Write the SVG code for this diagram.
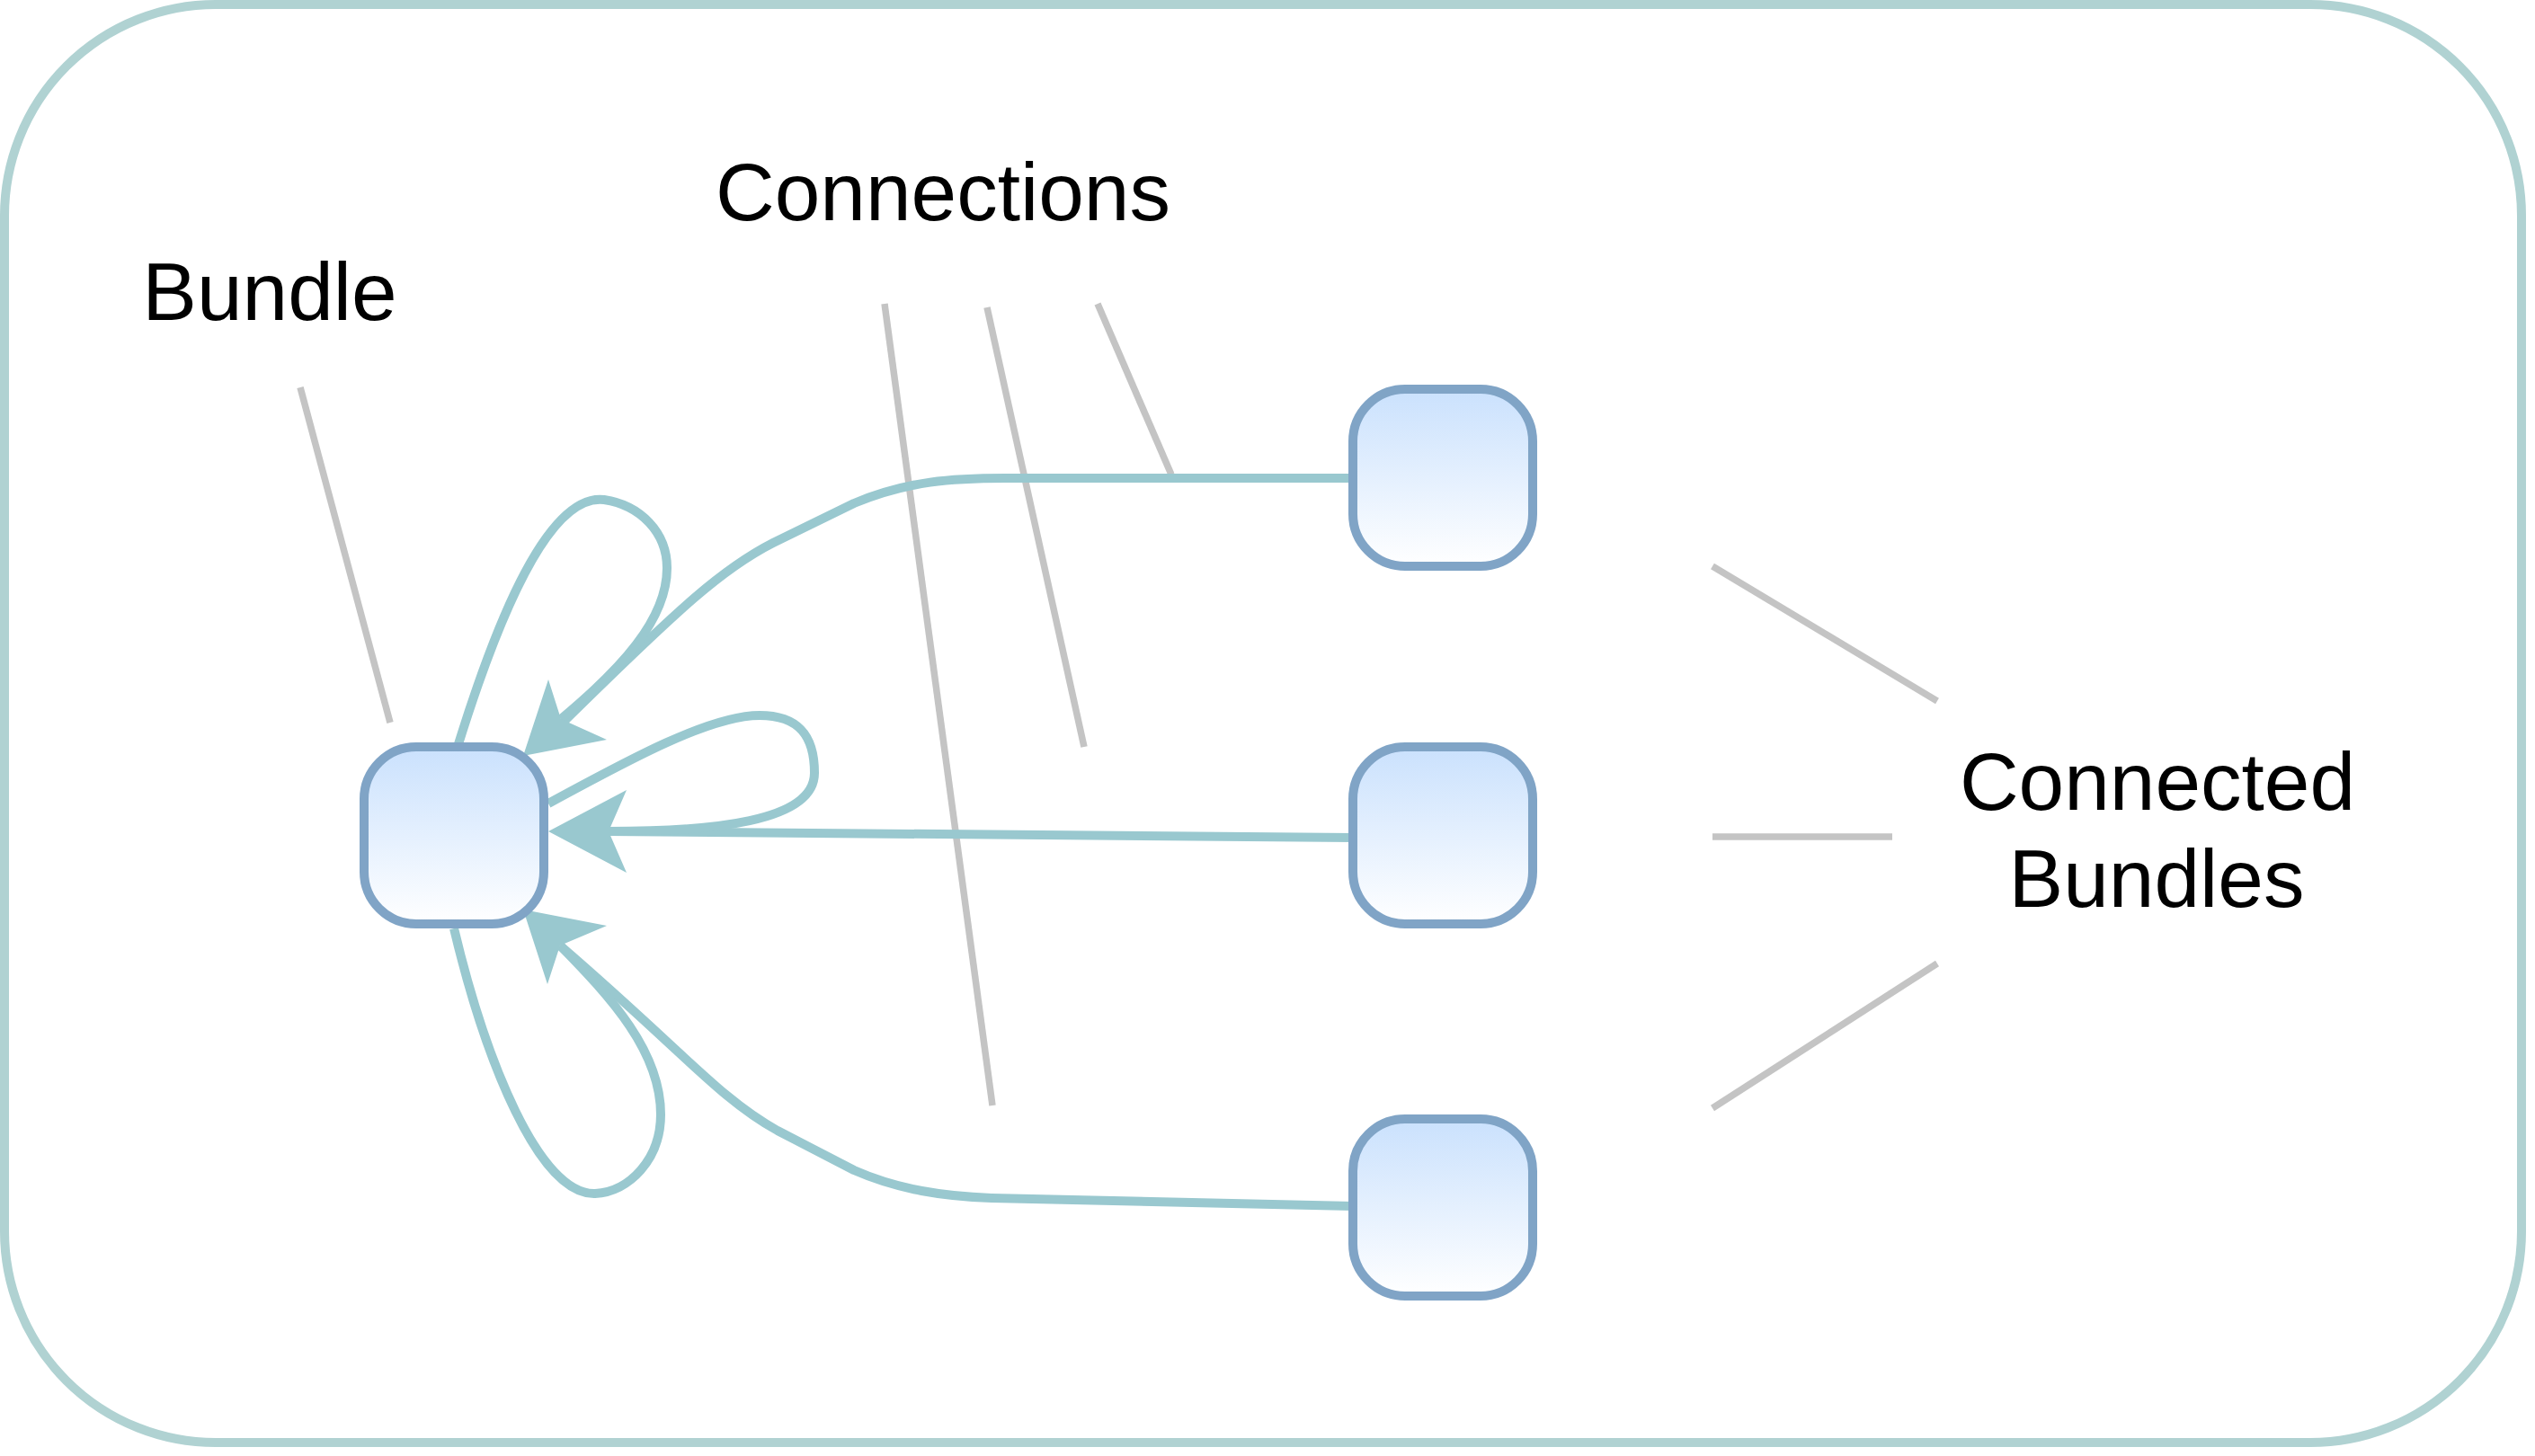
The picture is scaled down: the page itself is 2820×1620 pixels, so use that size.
<svg xmlns="http://www.w3.org/2000/svg" width="2820" height="1620" viewBox="0 0 2820 1620">
  <defs>
    <linearGradient id="nodeFill" x1="0" y1="0" x2="0" y2="1">
      <stop offset="0" stop-color="#cae1fd"/>
      <stop offset="1" stop-color="#ffffff"/>
    </linearGradient>
    <style>
      .frame { fill: #ffffff; stroke: #b0d2d2; stroke-width: 10; }
      .node { fill: url(#nodeFill); stroke: #80a4c6; stroke-width: 10; }
      .conn { fill: none; stroke: #99c8cf; stroke-width: 10; stroke-linejoin: round; }
      .arrow { fill: #99c8cf; stroke: none; }
      .pointer { fill: none; stroke: #c4c4c4; stroke-width: 7.5; }
      .label { font-family: "Liberation Sans", Arial, sans-serif; font-size: 91px; fill: #000000; text-anchor: middle; }
    </style>
  </defs>

  <rect id="frame" class="frame" x="5" y="5" width="2800" height="1600" rx="235" ry="235"/>

  <g id="pointers">
    <line class="pointer" x1="334" y1="431" x2="434" y2="804"/>
    <line class="pointer" x1="984" y1="338" x2="1104" y2="1230"/>
    <line class="pointer" x1="1098" y1="342" x2="1206" y2="831"/>
    <line class="pointer" x1="1221" y1="338" x2="1303" y2="528"/>
    <line class="pointer" x1="1905" y1="630" x2="2155" y2="780"/>
    <line class="pointer" x1="1905" y1="931" x2="2105" y2="931"/>
    <line class="pointer" x1="1905" y1="1233" x2="2155" y2="1072"/>
  </g>

  <g id="connectors">
    <path class="conn" d="M 1505,532 L 1118,532 C 1060,532 1010,535 950,560 L 860,604 C 805,632 760,672 624,806"/>
    <path class="conn" d="M 509,831 C 545,715 605,548 672,556 C 712,562 742,592 742,632 C 742,690 690,745 624,800"/>
    <path class="conn" d="M 1505,932 L 677,925"/>
    <path class="conn" d="M 610,894 C 700,845 790,796 845,796 C 890,796 906,820 906,860 C 906,915 790,925 677,925"/>
    <path class="conn" d="M 1505,1342 L 1103,1333 C 1050,1331 1000,1324 950,1302 L 865,1258 C 800,1222 760,1170 623,1052"/>
    <path class="conn" d="M 505,1033 C 540,1180 600,1330 662,1328 C 700,1326 735,1290 735,1240 C 735,1170 680,1110 623,1052"/>
    <polygon class="arrow" points="582,841 610,756 624,800 675,823"/>
    <polygon class="arrow" points="610,925 697,879 677,925 697,971"/>
    <polygon class="arrow" points="582,1012 675,1030 623,1052 609,1095"/>
  </g>

  <g id="bundle">
    <rect class="node" x="405" y="831" width="200" height="197" rx="58" ry="58"/>
  </g>
  <g id="connected-1">
    <rect class="node" x="1505" y="433" width="200" height="197" rx="58" ry="58"/>
  </g>
  <g id="connected-2">
    <rect class="node" x="1505" y="831" width="200" height="197" rx="58" ry="58"/>
  </g>
  <g id="connected-3">
    <rect class="node" x="1505" y="1245" width="200" height="197" rx="58" ry="58"/>
  </g>

  <g id="labels">
    <text class="label" x="300" y="356">Bundle</text>
    <text class="label" x="1049" y="245">Connections</text>
    <text class="label" x="2400" y="901">Connected</text>
    <text class="label" x="2399" y="1009">Bundles</text>
  </g>
</svg>
